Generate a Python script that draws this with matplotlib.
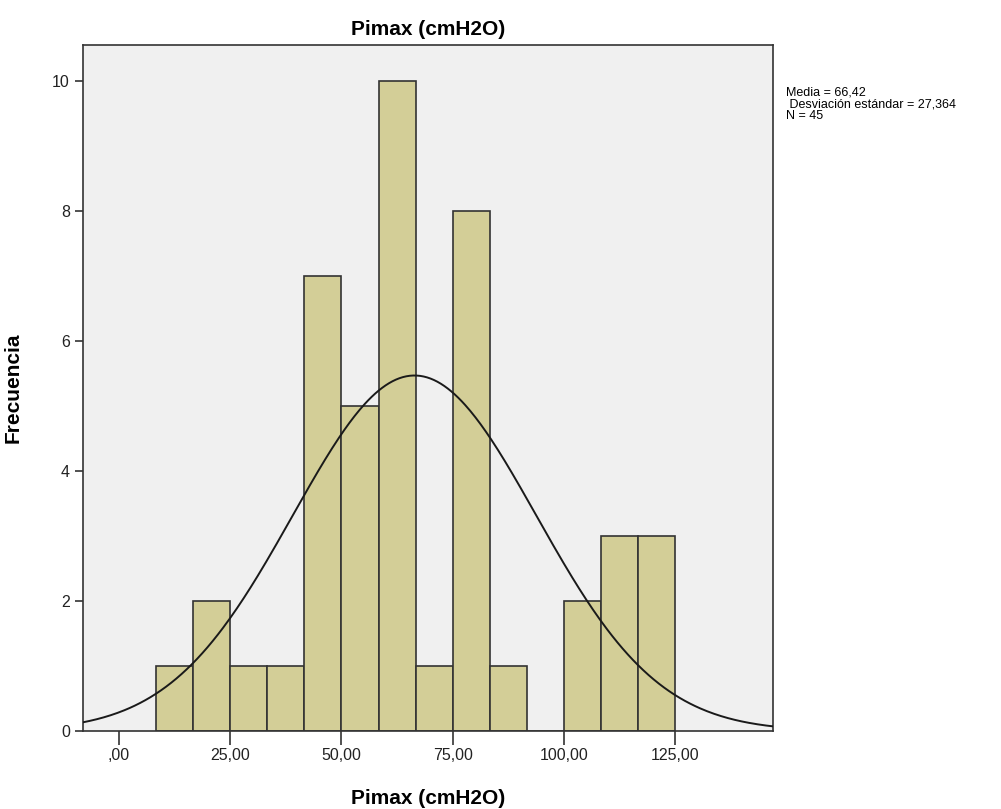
import numpy as np
import matplotlib.pyplot as plt

plt.rcParams['font.family'] = ['Liberation Sans', 'DejaVu Sans']

# histogram bins (left edges) and counts
bin_width = 25 / 3
bin_left = [8.33, 16.67, 25.0, 33.33, 41.67, 50.0, 58.33, 66.67,
            75.0, 83.33, 91.67, 100.0, 108.33, 116.67]
counts = [1, 2, 1, 1, 7, 5, 10, 1, 8, 1, 0, 2, 3, 3]

media = 66.42
desv = 27.364
n = 45

xticks = [0, 25, 50, 75, 100, 125]
xtick_labels = [",00", "25,00", "50,00", "75,00", "100,00", "125,00"]
yticks = [0, 2, 4, 6, 8, 10]

fig = plt.figure(figsize=(10.01, 8.09), dpi=100)
ax = fig.add_axes([0.0829, 0.0964, 0.6893, 0.848])
ax.set_facecolor('#F0F0F0')

ax.bar(bin_left, counts, width=bin_width, align='edge',
       color='#D3CE97', edgecolor='#333333', linewidth=1.2, zorder=2)

xs = np.linspace(-8.1, 147.0, 400)
ys = n * bin_width / (desv * np.sqrt(2 * np.pi)) * np.exp(-0.5 * ((xs - media) / desv) ** 2)
ax.plot(xs, ys, color='#1a1a1a', linewidth=1.4, zorder=3)

ax.set_xlim(-8.1, 147.0)
ax.set_ylim(0, 10.55)
ax.set_xticks(xticks)
ax.set_xticklabels(xtick_labels)
ax.set_yticks(yticks)
ax.tick_params(axis='both', direction='out', labelsize=11.5, color='#333333',
               labelcolor='#222222', width=1.2)
ax.tick_params(axis='x', length=10, pad=2)
ax.tick_params(axis='y', length=6)
for s in ax.spines.values():
    s.set_color('#333333')
    s.set_linewidth(1.2)

ax.set_title("Pimax (cmH2O)", fontsize=15, fontweight='bold', pad=7)
ax.set_xlabel("Pimax (cmH2O)", fontsize=15, fontweight='bold', labelpad=19)
ax.set_ylabel("Frecuencia", fontsize=15, fontweight='bold')
ax.yaxis.set_label_coords(-0.088, 0.5)

fig.text(0.785, 0.893, "Media = 66,42\n Desviación estándar = 27,364\nN = 45",
         fontsize=9, va='top', ha='left', linespacing=0.95)

fig.savefig("out.png", dpi=100)
